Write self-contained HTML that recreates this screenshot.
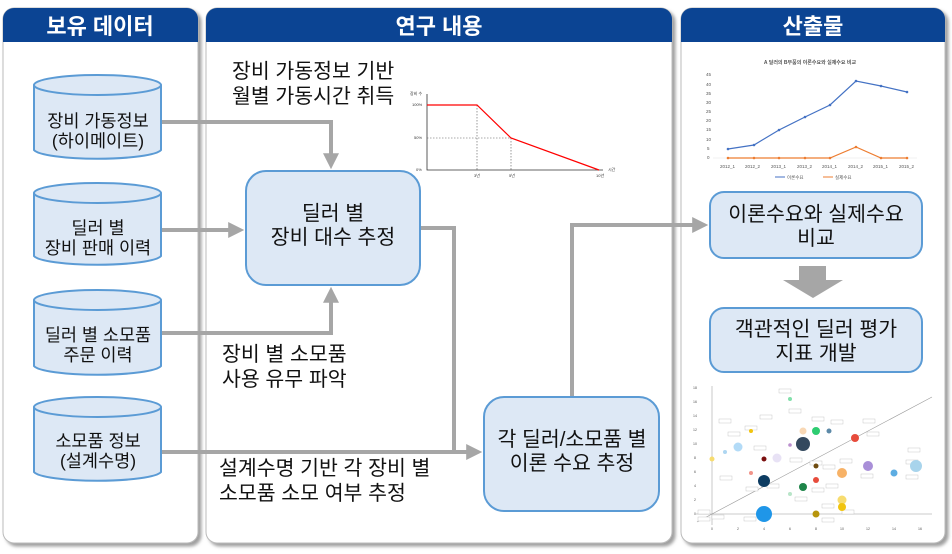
<!DOCTYPE html>
<html><head><meta charset="utf-8"><style>
html,body{margin:0;padding:0;background:#fff;}
svg{display:block;font-family:"Liberation Sans","Noto Sans CJK KR",sans-serif;}
</style></head><body>
<svg width="952" height="554" viewBox="0 0 952 554" xmlns="http://www.w3.org/2000/svg">
<defs>
<filter id="sh" x="-5%" y="-5%" width="110%" height="110%"><feDropShadow dx="3" dy="3" stdDeviation="1.5" flood-color="#777" flood-opacity="0.7"/></filter>
<marker id="ar" markerWidth="4" markerHeight="4" refX="2.2" refY="2" orient="auto" markerUnits="strokeWidth"><path d="M0,0 L4,2 L0,4 z" fill="#a6a6a6"/></marker>
</defs>
<g filter="url(#sh)">
<rect x="3" y="8" width="195" height="535" rx="11" fill="#fff" stroke="#bbb"/>
<rect x="206" y="8" width="466" height="535" rx="11" fill="#fff" stroke="#bbb"/>
<rect x="681" y="8" width="264" height="535" rx="11" fill="#fff" stroke="#bbb"/>
</g>
<path d="M3,42 V19 a11,11 0 0 1 11,-11 H187 a11,11 0 0 1 11,11 V42 z" fill="#0b4493"/>
<path d="M206,42 V19 a11,11 0 0 1 11,-11 H661 a11,11 0 0 1 11,11 V42 z" fill="#0b4493"/>
<path d="M681,42 V19 a11,11 0 0 1 11,-11 H934 a11,11 0 0 1 11,11 V42 z" fill="#0b4493"/>
<g fill="#fff" font-size="22" font-weight="bold" text-anchor="middle">
<text x="100" y="34">보유 데이터</text>
<text x="439" y="34">연구 내용</text>
<text x="813" y="34">산출물</text>
</g>
<g stroke="#a6a6a6" stroke-width="4" fill="none">
<path d="M161,122 H331 V162" marker-end="url(#ar)"/>
<path d="M161,230 H237" marker-end="url(#ar)"/>
<path d="M161,333 H331 V294" marker-end="url(#ar)"/>
<path d="M420,228 H454 V452"/>
<path d="M161,452 H475" marker-end="url(#ar)"/>
<path d="M572,397 V225 H701" marker-end="url(#ar)"/>
</g>
<g fill="#dde8f5" stroke="#5b9bd5" stroke-width="2">
<path d="M34,85 V150 A64,10 0 0 0 161,150 V85"/><ellipse cx="97.5" cy="85" rx="63.5" ry="10"/>
<path d="M34,193 V256 A64,10 0 0 0 161,256 V193"/><ellipse cx="97.5" cy="193" rx="63.5" ry="10"/>
<path d="M34,300 V366 A64,10 0 0 0 161,366 V300"/><ellipse cx="97.5" cy="300" rx="63.5" ry="10"/>
<path d="M34,407 V472 A64,10 0 0 0 161,472 V407"/><ellipse cx="97.5" cy="407" rx="63.5" ry="10"/>
</g>
<g font-size="17.5" text-anchor="middle" fill="#111">
<text x="98" y="127">장비 가동정보</text><text x="98" y="147">(하이메이트)</text>
<text x="98" y="234">딜러 별</text><text x="98" y="254">장비 판매 이력</text>
<text x="98" y="341">딜러 별 소모품</text><text x="98" y="361">주문 이력</text>
<text x="98" y="447">소모품 정보</text><text x="98" y="467">(설계수명)</text>
</g>
<g fill="#dde8f5" stroke="#5b9bd5" stroke-width="2">
<rect x="246" y="171" width="174" height="114" rx="20"/>
<rect x="484" y="397" width="175" height="114" rx="20"/>
<rect x="710" y="192" width="212" height="66" rx="14"/>
<rect x="710" y="308" width="212" height="64" rx="14"/>
</g>
<g font-size="20.5" text-anchor="middle" fill="#111">
<text x="333" y="220">딜러 별</text><text x="333" y="244">장비 대수 추정</text>
<text x="572" y="446">각 딜러/소모품 별</text><text x="572" y="470">이론 수요 추정</text>
<text x="816" y="221">이론수요와 실제수요</text><text x="816" y="245">비교</text>
<text x="816" y="336">객관적인 딜러 평가</text><text x="816" y="360">지표 개발</text>
</g>
<g font-size="20.5" fill="#111">
<text x="232" y="78">장비 가동정보 기반</text><text x="232" y="103">월별 가동시간 취득</text>
<text x="222" y="361">장비 별 소모품</text><text x="222" y="386">사용 유무 파악</text>
<text x="219" y="475">설계수명 기반 각 장비 별</text><text x="219" y="500">소모품 소모 여부 추정</text>
</g>
<path d="M799,266 H826 V280 H843 L813,298 L783,280 H799 z" fill="#a6a6a6"/>
<g font-size="4" fill="#333">
<path d="M427,94 V170 H603" stroke="#333" stroke-width="0.8" fill="none"/>
<text x="410" y="95">장비 수</text><text x="412" y="106">100%</text><text x="414" y="139">50%</text><text x="416" y="171">0%</text>
<text x="474" y="177">3년</text><text x="509" y="177">5년</text><text x="596" y="177">10년</text><text x="608" y="171">시간</text>
<path d="M427,138 H511 M477,105 V170 M511,138 V170" stroke="#555" stroke-width="0.6" stroke-dasharray="1.5,1.5" fill="none"/>
<path d="M427,105 H477 L511,138 L599,170" stroke="#f00" stroke-width="1.2" fill="none"/>
</g>
<g font-size="4.5" fill="#555">
<text x="810" y="64" text-anchor="middle" font-weight="bold" font-size="5">A 딜러의 B부품의 이론수요와 실제수요 비교</text>
<path d="M713,158 H917" stroke="#e5e5e5" stroke-width="0.5"/>
<text x="706" y="76">45</text><text x="706" y="86">40</text><text x="706" y="95">35</text><text x="706" y="104">30</text><text x="706" y="113">25</text><text x="706" y="122">20</text><text x="706" y="131">15</text><text x="706" y="141">10</text><text x="707" y="150">5</text><text x="707" y="159">0</text>
<text x="720" y="168">2012_1</text><text x="745" y="168">2012_2</text><text x="771" y="168">2013_1</text><text x="797" y="168">2013_2</text><text x="822" y="168">2014_1</text><text x="848" y="168">2014_2</text><text x="873" y="168">2015_1</text><text x="899" y="168">2015_2</text>
<polyline points="728,149 754,145 779,130 805,117 830,105 856,81 881,86 907,92" fill="none" stroke="#4472c4" stroke-width="1.2"/>
<g fill="#4472c4"><circle cx="728" cy="149" r="1.3"/><circle cx="754" cy="145" r="1.3"/><circle cx="779" cy="130" r="1.3"/><circle cx="805" cy="117" r="1.3"/><circle cx="830" cy="105" r="1.3"/><circle cx="856" cy="81" r="1.3"/><circle cx="881" cy="86" r="1.3"/><circle cx="907" cy="92" r="1.3"/></g>
<polyline points="728,158 754,158 779,158 805,158 830,158 856,147 881,158 907,158" fill="none" stroke="#ed7d31" stroke-width="1.2"/>
<g fill="#ed7d31"><circle cx="728" cy="158" r="1.3"/><circle cx="754" cy="158" r="1.3"/><circle cx="779" cy="158" r="1.3"/><circle cx="805" cy="158" r="1.3"/><circle cx="830" cy="158" r="1.3"/><circle cx="856" cy="147" r="1.3"/><circle cx="881" cy="158" r="1.3"/><circle cx="907" cy="158" r="1.3"/></g>
<path d="M775,177 H785" stroke="#4472c4" stroke-width="1"/><text x="787" y="179">이론수요</text>
<path d="M823,177 H833" stroke="#ed7d31" stroke-width="1"/><text x="835" y="179">실제수요</text>
</g>
<g font-size="3.5" fill="#555">
<path d="M712,386 V525 M696,514 H932" stroke="#bbb" stroke-width="0.8"/>
<path d="M697,522 L932,397" stroke="#999" stroke-width="0.6"/>
<text x="693" y="389">18</text><text x="693" y="403">16</text><text x="693" y="417">14</text><text x="693" y="431">12</text><text x="693" y="445">10</text><text x="694" y="459">8</text><text x="694" y="473">6</text><text x="694" y="487">4</text><text x="694" y="501">2</text><text x="694" y="515">0</text>
<text x="711" y="530">0</text><text x="737" y="530">2</text><text x="763" y="530">4</text><text x="789" y="530">6</text><text x="815" y="530">8</text><text x="840" y="530">10</text><text x="866" y="530">12</text><text x="892" y="530">14</text><text x="918" y="530">16</text>
<g fill="#fff" stroke="#bbb" stroke-width="0.4">
<rect x="719" y="419" width="12" height="4"/><rect x="728" y="432" width="12" height="4"/><rect x="745" y="426" width="12" height="4"/><rect x="779" y="389" width="12" height="4"/><rect x="760" y="415" width="12" height="4"/><rect x="789" y="409" width="12" height="4"/><rect x="812" y="417" width="12" height="4"/><rect x="831" y="420" width="12" height="4"/><rect x="863" y="419" width="12" height="4"/><rect x="867" y="432" width="12" height="4"/><rect x="908" y="448" width="12" height="4"/><rect x="906" y="460" width="12" height="4"/><rect x="906" y="475" width="12" height="4"/><rect x="754" y="446" width="12" height="4"/><rect x="790" y="458" width="12" height="4"/><rect x="810" y="461" width="12" height="4"/><rect x="823" y="465" width="12" height="4"/><rect x="840" y="459" width="12" height="4"/><rect x="861" y="474" width="12" height="4"/><rect x="826" y="484" width="12" height="4"/><rect x="812" y="488" width="12" height="4"/><rect x="746" y="487" width="12" height="4"/><rect x="767" y="484" width="12" height="4"/><rect x="795" y="497" width="12" height="4"/><rect x="822" y="504" width="12" height="4"/><rect x="842" y="510" width="12" height="4"/><rect x="822" y="518" width="12" height="4"/><rect x="744" y="517" width="12" height="4"/><rect x="698" y="510" width="12" height="4"/><rect x="698" y="517" width="12" height="4"/><rect x="712" y="515" width="12" height="4"/><rect x="720" y="476" width="12" height="4"/></g>
<circle cx="764" cy="514" r="8" fill="#1f96e8"/>
<circle cx="764" cy="481" r="6" fill="#0d3c61"/>
<circle cx="803" cy="444" r="7" fill="#34495e"/>
<circle cx="916" cy="466" r="6" fill="#a8d4ec"/>
<circle cx="842" cy="473" r="5" fill="#f7b267"/>
<circle cx="868" cy="466" r="5" fill="#a98fd8"/>
<circle cx="738" cy="447" r="4.5" fill="#b3dbf7"/>
<circle cx="777" cy="458" r="4.5" fill="#e8e2f5"/>
<circle cx="816" cy="431" r="4" fill="#2ecc71"/>
<circle cx="803" cy="431" r="3.5" fill="#f9d8b5"/>
<circle cx="803" cy="487" r="4" fill="#1e8449"/>
<circle cx="855" cy="438" r="4" fill="#e74c3c"/>
<circle cx="842" cy="500" r="4.5" fill="#f7dc6f"/>
<circle cx="842" cy="507" r="4" fill="#f1c40f"/>
<circle cx="816" cy="514" r="3.5" fill="#b7950b"/>
<circle cx="816" cy="480" r="3" fill="#e74c3c"/>
<circle cx="816" cy="466" r="2.5" fill="#6e4b0f"/>
<circle cx="894" cy="473" r="3.5" fill="#5dade2"/>
<circle cx="829" cy="431" r="2.5" fill="#5d8aa8"/>
<circle cx="764" cy="459" r="2.5" fill="#7b1010"/>
<circle cx="751" cy="431" r="2" fill="#f1c40f"/>
<circle cx="712" cy="459" r="2.5" fill="#f7dc6f"/>
<circle cx="790" cy="494" r="2" fill="#b8e5c8"/>
<circle cx="790" cy="399" r="2" fill="#82e0aa"/>
<circle cx="751" cy="473" r="2" fill="#f1948a"/>
<circle cx="725" cy="452" r="2" fill="#aed6f1"/>
<circle cx="790" cy="445" r="1.8" fill="#bb8fce"/>
</g>
</svg>
</body></html>
